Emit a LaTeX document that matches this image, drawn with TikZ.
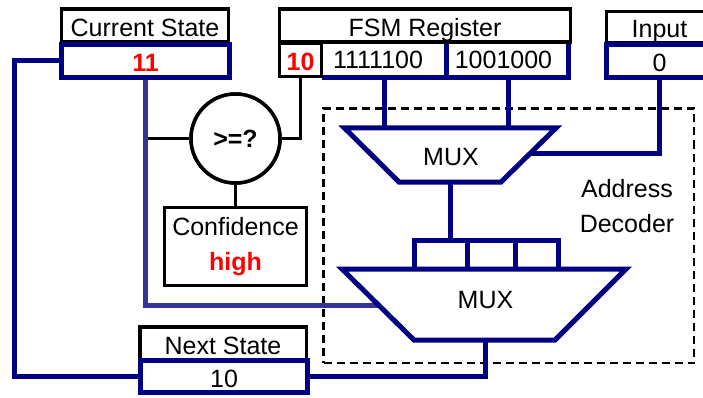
\documentclass[tikz,border=0pt]{standalone}
\usepackage{fontspec}
\setmainfont{Liberation Sans}
\usetikzlibrary{calc}
\definecolor{navy}{RGB}{0,0,128}
\definecolor{midblue}{RGB}{51,51,153}
\definecolor{hred}{RGB}{255,0,0}
\newcommand\dgfont{\fontsize{25}{30}\selectfont}
\begin{document}
\begin{tikzpicture}[x=1pt,y=-1pt,
 txt/.style={font=\dgfont, inner sep=0pt, text height=22pt, text depth=0pt},
 hdr/.style={txt, draw=black, line width=3.5pt, fill=white, rectangle},
 val/.style={txt, draw=navy, line width=5pt, fill=white, rectangle},
 rtxt/.style={text=hred, font=\dgfont\bfseries},
 bus/.style={draw=navy, line width=5pt},
 wire/.style={draw=black, line width=3.5pt},
 lbus/.style={draw=midblue, line width=5pt},
 muxs/.style={draw=navy, line width=5pt, fill=white, line join=miter},
 dbox/.style={draw=black, line width=2.5pt, dash pattern=on 8pt off 5pt, inner sep=0pt}]
\useasboundingbox (0,0) rectangle (703,398);
\clip (0,0) rectangle (703,398);

% address decoder region
\node[dbox, minimum width=370.5pt, minimum height=254.5pt] (dec) at (508.75,235.75) {};
\node[txt] (addr) at (627,186.5) {Address};
\node[txt] (deco) at (627,221.5) {Decoder};

% mux geometry
\coordinate (tTL) at (344.5,128);
\coordinate (tTR) at (556,128);
\coordinate (tBR) at (501,182);
\coordinate (tBL) at (399,182);
\coordinate (bTL) at (342,269);
\coordinate (bTR) at (626,269);
\coordinate (bBR) at (555,340);
\coordinate (bBL) at (414,340);
\coordinate (tin1) at (384.5,128);
\coordinate (tin2) at (508,128);
\coordinate (tin3) at ($(tTR)!0.48!(tBR)$);
\coordinate (tout) at ($(tBL)!0.5!(tBR)$);
\coordinate (bi1) at (414.5,269);
\coordinate (bi2) at (467.5,269);
\coordinate (bi3) at (515.5,269);
\coordinate (bi4) at (558,269);
\coordinate (bar) at (452,240);
\coordinate (bL) at ($(bTL)!0.52!(bBL)$);
\coordinate (bout) at (485,340);
\coordinate (lp) at (14.5,61);

% boxes (named, drawn later for layering)
\node[hdr, minimum width=42pt, minimum height=33pt, rtxt] (r10) at (300.5,60) {10};
\node[minimum width=246.5pt, minimum height=35pt, inner sep=0pt] (fsmv) at (445.25,60) {};
\node[val, minimum width=168pt, minimum height=33pt, rtxt] (csv) at (145.5,61) {11};
\node[val, minimum width=106pt, minimum height=33pt] (inv) at (659.5,61) {0};
\node[val, minimum width=167pt, minimum height=32pt] (nsv) at (224,376.5) {10};
\node[circle, draw=black, line width=3.5pt, fill=white, minimum size=89pt, inner sep=0pt,
      font=\dgfont\bfseries] (cmp) at (235.5,138.5) {>=?};
\node[hdr, minimum width=142pt, minimum height=78pt] (conf) at (235.5,246.5) {};

% black wires around comparator
\draw[wire] (cmp.west -| csv.south) -- (cmp.west);
\draw[wire] (cmp.east) -| (r10.south);
\draw[wire] (cmp.south) -- (conf.north);

% light blue line from current state to address mux
\draw[lbus] (csv.south) |- (bL);

% navy buses
\draw[bus] (csv.west) -- (lp) |- (nsv.west);
\draw[bus] (bout) |- (nsv.east);
\draw[bus] (fsmv.south -| tin1) -- (tin1);
\draw[bus] (fsmv.south -| tin2) -- (tin2);
\draw[bus] (inv.south) |- (tin3);
\draw[bus] (tout) -- (tout |- bar);
\draw[bus] (bi1) -- (bi1 |- bar) -- (bi4 |- bar) -- (bi4);
\draw[bus] (bi2) -- (bi2 |- bar);
\draw[bus] (bi3) -- (bi3 |- bar);

% muxes
\draw[muxs] (tTL) -- (tTR) -- (tBR) -- (tBL) -- cycle;
\node[txt] (tmux) at (451,154) {MUX};
\draw[muxs] (bTL) -- (bTR) -- (bBR) -- (bBL) -- cycle;
\node[txt] (bmux) at (485.5,297) {MUX};

% FSM register value row
\draw[bus] (fsmv.south west) -- (fsmv.south east) -- (fsmv.north east);
\draw[bus] ($(fsmv.north)+(1.25,0)$) -- ($(fsmv.south)+(1.25,0)$);
\node[txt] (fa) at (378,58) {1111100};
\node[txt] (fb) at (503.5,58) {1001000};

% headers
\node[hdr, minimum width=167pt, minimum height=33pt] (csh) at (145,25.5) {Current State};
\node[hdr, minimum width=291pt, minimum height=33pt] (fsh) at (425,25.5) {FSM Register};
\node[hdr, minimum width=106pt, minimum height=31pt] (inh) at (659.5,27) {Input};
\node[hdr, minimum width=166.5pt, minimum height=32.5pt] (nsh) at (223,343) {Next State};

% redraw value boxes over headers
\node[val, minimum width=168pt, minimum height=33pt, rtxt] at (csv) {11};
\node[val, minimum width=106pt, minimum height=33pt] at (inv) {0};
\node[val, minimum width=167pt, minimum height=32pt] at (nsv) {10};
\node[hdr, minimum width=42pt, minimum height=33pt, rtxt] at (r10) {10};

% comparator and confidence
\node[circle, draw=black, line width=3.5pt, fill=white, minimum size=89pt, inner sep=0pt,
      font=\dgfont\bfseries] at (cmp) {>=?};
\node[hdr, minimum width=142pt, minimum height=78pt] at (conf) {};
\node[txt] (ctx) at (235.5,224) {Confidence};
\node[txt, rtxt] (hig) at (235.5,259) {high};
\end{tikzpicture}
\end{document}
